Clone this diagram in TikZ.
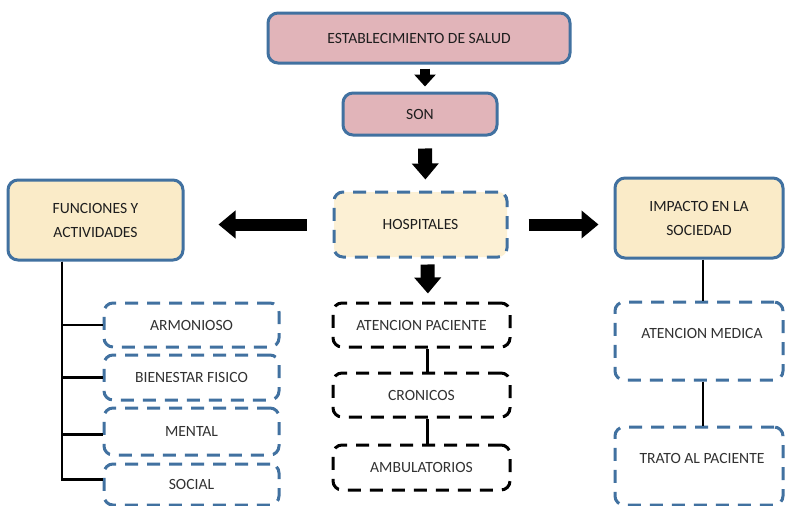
\documentclass[tikz,border=0pt]{standalone}
\usepackage{fontspec}
\setmainfont{Carlito}
\usetikzlibrary{arrows.meta}
\definecolor{bblue}{RGB}{65,113,160}
\definecolor{pinkf}{RGB}{225,180,185}
\definecolor{creamf}{RGB}{250,235,200}
\definecolor{creamh}{RGB}{252,240,212}
\definecolor{txt}{RGB}{30,30,30}
\definecolor{txtd}{RGB}{50,50,50}
\begin{document}
\begin{tikzpicture}[x=1pt,y=-1pt,
  every node/.style={font=\fontsize{15.6}{24}\selectfont, align=center, inner sep=0pt},
  fillbox/.style={draw=bblue, line width=3pt, rounded corners=10pt, text=txt},
  bdash/.style={draw=bblue, line width=3pt, dash pattern=on 13pt off 9pt, rounded corners=9pt, text=txtd},
  kdash/.style={draw=black, line width=3pt, dash pattern=on 13pt off 9pt, rounded corners=9pt, text=txtd},
  bigarrow/.style={draw=black, line width=14pt, -{Triangle[length=16pt,width=26pt]}},
  smallarrow/.style={draw=black, line width=10pt, -{Triangle[length=12pt,width=21pt]}},
  harrow/.style={draw=black, line width=12pt, -{Triangle[length=17pt,width=27pt]}},
  tree/.style={draw=black, line width=2.5pt}
]
\clip (0,0) rectangle (785,506);
\fill[white] (0,0) rectangle (785,506);

% top boxes
\node[fillbox, fill=pinkf, minimum width=302pt, minimum height=50pt] (est) at (419,38) {ESTABLECIMIENTO DE SALUD};
\node[fillbox, fill=pinkf, minimum width=154pt, minimum height=42pt] (son) at (420,114) {SON};
\node[bdash, fill=creamh, text=txt, minimum width=173pt, minimum height=65pt] (hosp) at (420.5,224.5) {HOSPITALES};
\node[fillbox, fill=creamf, minimum width=175pt, minimum height=80pt] (func) at (95.5,220) {FUNCIONES Y\\ACTIVIDADES};
\node[fillbox, fill=creamf, minimum width=168pt, minimum height=80pt] (imp) at (699,218) {IMPACTO EN LA\\SOCIEDAD};

% left list
\node[bdash, minimum width=175pt, minimum height=44pt] (armo) at (191.5,325) {ARMONIOSO};
\node[bdash, minimum width=175pt, minimum height=45pt] (bien) at (191.5,377.5) {BIENESTAR FISICO};
\node[bdash, minimum width=175pt, minimum height=47pt] (ment) at (191.5,431.5) {MENTAL};
\node[bdash, minimum width=175pt, minimum height=41pt] (soc) at (191.5,484.5) {SOCIAL};

% middle list
\node[kdash, minimum width=177pt, minimum height=44pt] (aten) at (421.5,325) {ATENCION PACIENTE};
\node[kdash, minimum width=177pt, minimum height=44pt] (cron) at (421.5,395) {CRONICOS};
\node[kdash, minimum width=177pt, minimum height=45pt] (ambu) at (421.5,467.5) {AMBULATORIOS};

% right list
\node[bdash, minimum width=168pt, minimum height=78pt] (med) at (699,341) {};
\node[text=txtd] (medt) at (702,333) {ATENCION MEDICA};
\node[bdash, minimum width=168pt, minimum height=78pt] (trato) at (699,466) {};
\node[text=txtd] (tratot) at (702,458) {TRATO AL PACIENTE};

% block arrows
\draw[smallarrow, shorten <=4pt, shorten >=5pt] ([xshift=6pt]est.south) -- ([xshift=5pt]son.north);
\draw[bigarrow, shorten <=12pt, shorten >=11pt] ([xshift=5pt]son.south) -- ([xshift=5pt]hosp.north);
\draw[bigarrow, shorten <=6pt, shorten >=8pt] ([xshift=7pt]hosp.south) -- ([xshift=6.5pt]aten.north);
\draw[harrow, shorten <=26pt, shorten >=34pt] (hosp.west) -- (hosp.west -| func.east);
\draw[harrow, shorten <=20pt, shorten >=15pt] (hosp.east) -- (hosp.east -| imp.west);

% tree on the left
\coordinate (trunk) at ([xshift=-33.5pt]func.south);
\draw[tree] (trunk) |- ([yshift=5pt]soc.west);
\draw[tree] (trunk) |- (armo.west);
\draw[tree] (trunk) |- (bien.west);
\draw[tree] (trunk) |- ([yshift=-3pt]ment.west);

% middle connectors
\draw[tree] ([xshift=6pt]aten.south) -- ([xshift=6pt]cron.north);
\draw[tree] ([xshift=6pt]cron.south) -- ([xshift=6pt]ambu.north);

% right connectors
\draw[tree] ([xshift=4pt]imp.south) -- ([xshift=4pt]med.north);
\draw[tree] ([xshift=4pt]med.south) -- ([xshift=4pt]trato.north);
\end{tikzpicture}
\end{document}
